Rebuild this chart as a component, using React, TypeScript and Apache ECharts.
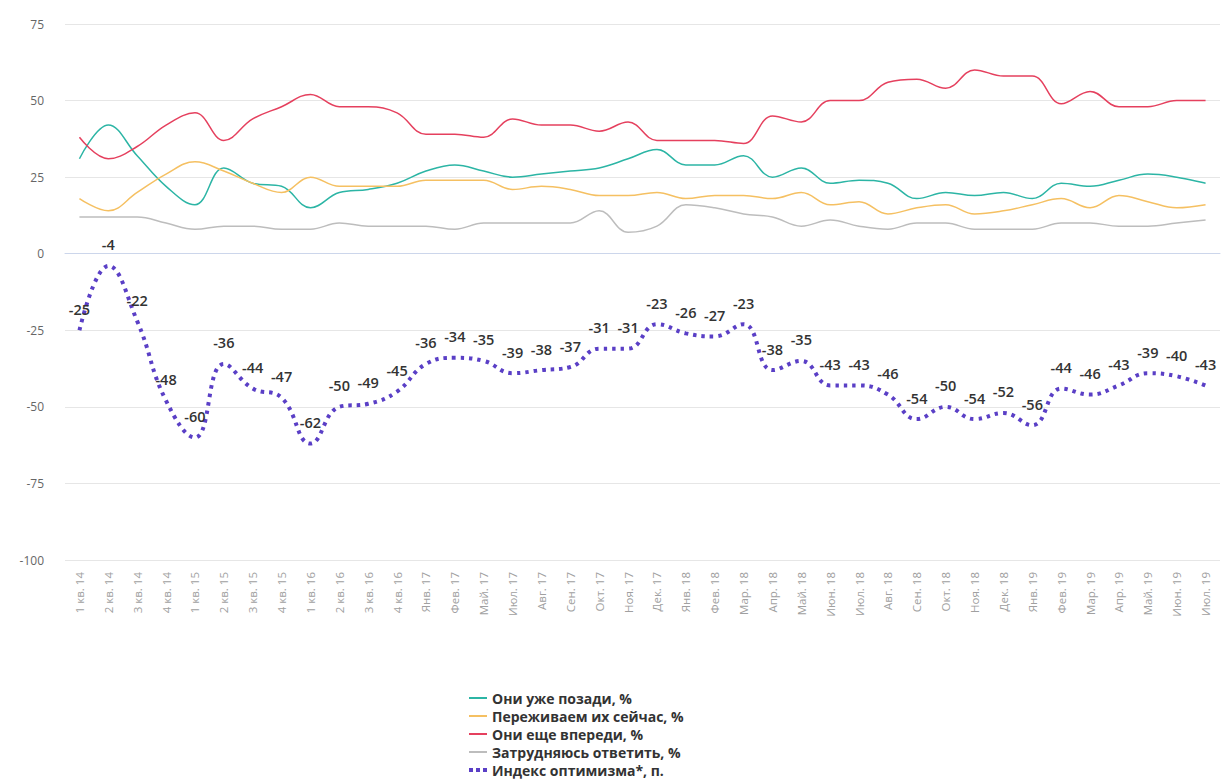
import React, { useEffect, useRef } from "react";
import * as echarts from "echarts";

const categories = [
  "1 кв. 14", "2 кв. 14", "3 кв. 14", "4 кв. 14",
  "1 кв. 15", "2 кв. 15", "3 кв. 15", "4 кв. 15",
  "1 кв. 16", "2 кв. 16", "3 кв. 16", "4 кв. 16",
  "Янв. 17", "Фев. 17", "Май. 17", "Июл. 17", "Авг. 17", "Сен. 17", "Окт. 17", "Ноя. 17", "Дек. 17",
  "Янв. 18", "Фев. 18", "Мар. 18", "Апр. 18", "Май. 18", "Июн. 18", "Июл. 18", "Авг. 18", "Сен. 18", "Окт. 18", "Ноя. 18", "Дек. 18",
  "Янв. 19", "Фев. 19", "Мар. 19", "Апр. 19", "Май. 19", "Июн. 19", "Июл. 19",
];

const behind = [31, 42, 32, 22, 16, 28, 23, 22, 15, 20, 21, 23, 27, 29, 27, 25, 26, 27, 28, 31, 34, 29, 29, 32, 25, 28, 23, 24, 23, 18, 20, 19, 20, 18, 23, 22, 24, 26, 25, 23];
const now = [18, 14, 20, 26, 30, 27, 23, 20, 25, 22, 22, 22, 24, 24, 24, 21, 22, 21, 19, 19, 20, 18, 19, 19, 18, 20, 16, 17, 13, 15, 16, 13, 14, 16, 18, 15, 19, 17, 15, 16];
const ahead = [38, 31, 35, 42, 46, 37, 44, 48, 52, 48, 48, 46, 39, 39, 38, 44, 42, 42, 40, 43, 37, 37, 37, 36, 45, 43, 50, 50, 56, 57, 54, 60, 58, 58, 49, 53, 48, 48, 50, 50];
const unsure = [12, 12, 12, 10, 8, 9, 9, 8, 8, 10, 9, 9, 9, 8, 10, 10, 10, 10, 14, 7, 9, 16, 15, 13, 12, 9, 11, 9, 8, 10, 10, 8, 8, 8, 10, 10, 9, 9, 10, 11];
const optimism = [-25, -4, -22, -48, -60, -36, -44, -47, -62, -50, -49, -45, -36, -34, -35, -39, -38, -37, -31, -31, -23, -26, -27, -23, -38, -35, -43, -43, -46, -54, -50, -54, -52, -56, -44, -46, -43, -39, -40, -43];

const yTicks = { min: -100, max: 75, interval: 25 };

const seriesNames = [
  "Они уже позади, %",
  "Переживаем их сейчас, %",
  "Они еще впереди, %",
  "Затрудняюсь ответить, %",
  "Индекс оптимизма*, п.",
];
const colors = ["#2cb5a5", "#f5c062", "#e5405e", "#bdbdbd", "#5a3fc6"];

const lineIcon = "path://M0,0h18v2h-18z";
const dotIcon = "path://M0,0h4v4h-4zM7,0h4v4h-4zM14,0h4v4h-4z";

export default function App() {
  const ref = useRef<HTMLDivElement>(null);
  useEffect(() => {
    if (!ref.current) return;
    const chart = echarts.init(ref.current, undefined, { renderer: "svg" });
    const plain = (name: string, data: number[], color: string) => ({
      name,
      type: "line",
      data,
      smooth: 0.4,
      symbol: "none",
      lineStyle: { color, width: 1.5 },
      itemStyle: { color },
      z: 2,
    });
    chart.setOption({
      animation: false,
      textStyle: { fontFamily: "Open Sans" },
      grid: { left: 65, right: 3, top: 24, bottom: 223, containLabel: false },
      xAxis: {
        type: "category",
        data: categories,
        boundaryGap: true,
        axisLine: { lineStyle: { color: "#ccd6eb" } },
        axisTick: { lineStyle: { color: "#ccd6eb" }, length: 10 },
        axisLabel: { rotate: 90, color: "#a0a0a0", fontSize: 11.5, interval: 0, margin: 12 },
      },
      yAxis: {
        type: "value",
        min: yTicks.min,
        max: yTicks.max,
        interval: yTicks.interval,
        axisLine: { show: false },
        axisTick: { show: false },
        axisLabel: { color: "#666", fontSize: 12, margin: 21 },
        splitLine: { lineStyle: { color: "#e6e6e6" } },
      },
      legend: {
        orient: "vertical",
        left: 464,
        top: 686,
        height: 100,
        itemWidth: 18,
        itemHeight: 12,
        itemGap: 4,
        textStyle: { color: "#333", fontSize: 14, fontWeight: "bold", fontFamily: "Open Sans" },
        data: seriesNames.map((n, i) => ({
          name: n,
          icon: i === 4 ? dotIcon : lineIcon,
          itemStyle: { color: colors[i], opacity: 1 },
        })),
      },
      series: [
        plain(seriesNames[0], behind, colors[0]),
        plain(seriesNames[1], now, colors[1]),
        plain(seriesNames[2], ahead, colors[2]),
        plain(seriesNames[3], unsure, colors[3]),
        {
          name: seriesNames[4],
          type: "line",
          data: optimism,
          smooth: 0.45,
          symbol: "circle",
          symbolSize: 1,
          showSymbol: true,
          lineStyle: { color: colors[4], width: 4, type: [3.5, 5] },
          itemStyle: { color: "rgba(0,0,0,0)" },
          label: {
            show: true,
            position: "top",
            distance: 13,
            color: "#333",
            fontSize: 14.5,
            fontWeight: 600,
            fontFamily: "Open Sans",
          },
          z: 3,
        },
      ],
    });
    return () => chart.dispose();
  }, []);
  return (
    <div
      ref={ref}
      style={{ position: "fixed", left: 0, top: 0, width: 1223, height: 783, background: "#fff" }}
    />
  );
}
